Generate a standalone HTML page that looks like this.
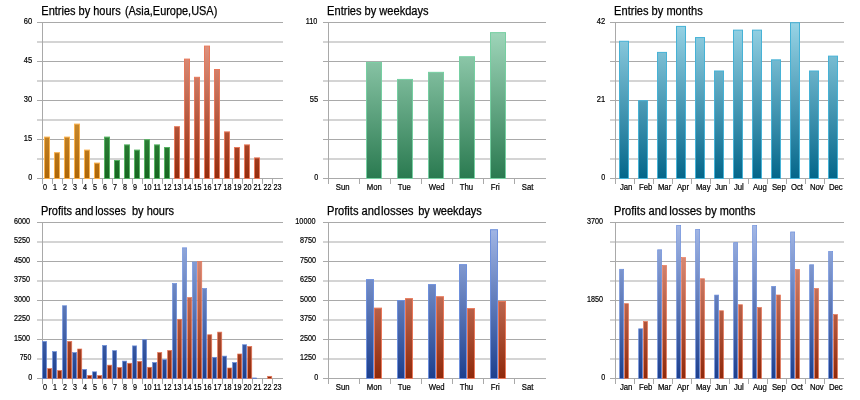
<!DOCTYPE html>
<html><head><meta charset="utf-8"><title>Statistics</title>
<style>
html,body{margin:0;padding:0;background:#fff;}
body{width:860px;height:400px;overflow:hidden;}
svg{display:block;}
text{font-family:"Liberation Sans", Arial, sans-serif;fill:#000;}
text.s{stroke:#000;stroke-width:0.2px;}
text.t{stroke:#000;stroke-width:0.25px;}
</style></head><body>
<svg width="860" height="400" viewBox="0 0 860 400">
<defs>
<linearGradient id="g_c1_orange" gradientUnits="userSpaceOnUse" x1="0" y1="22.5" x2="0" y2="178.5"><stop offset="0" stop-color="#f2c472"/><stop offset="1" stop-color="#ad6608"/></linearGradient>
<linearGradient id="g_c1_green" gradientUnits="userSpaceOnUse" x1="0" y1="22.5" x2="0" y2="178.5"><stop offset="0" stop-color="#6fc278"/><stop offset="1" stop-color="#166620"/></linearGradient>
<linearGradient id="g_c1_red1" gradientUnits="userSpaceOnUse" x1="0" y1="22.5" x2="0" y2="178.5"><stop offset="0" stop-color="#eaa493"/><stop offset="1" stop-color="#942c0c"/></linearGradient>
<linearGradient id="g_c2_mint" gradientUnits="userSpaceOnUse" x1="0" y1="22.5" x2="0" y2="178.5"><stop offset="0" stop-color="#a6dbc0"/><stop offset="1" stop-color="#2a7a50"/></linearGradient>
<linearGradient id="g_c3_teal" gradientUnits="userSpaceOnUse" x1="0" y1="22.5" x2="0" y2="178.5"><stop offset="0" stop-color="#98d4e6"/><stop offset="1" stop-color="#04668a"/></linearGradient>
<linearGradient id="g_c4_blue" gradientUnits="userSpaceOnUse" x1="0" y1="222.5" x2="0" y2="378.5"><stop offset="0" stop-color="#a6bae8"/><stop offset="1" stop-color="#1c3f8e"/></linearGradient>
<linearGradient id="g_c4_red" gradientUnits="userSpaceOnUse" x1="0" y1="222.5" x2="0" y2="378.5"><stop offset="0" stop-color="#eaa493"/><stop offset="1" stop-color="#8f290a"/></linearGradient>
<linearGradient id="g_c5_blue" gradientUnits="userSpaceOnUse" x1="0" y1="222.5" x2="0" y2="378.5"><stop offset="0" stop-color="#a6bae8"/><stop offset="1" stop-color="#1c3f8e"/></linearGradient>
<linearGradient id="g_c5_red" gradientUnits="userSpaceOnUse" x1="0" y1="222.5" x2="0" y2="378.5"><stop offset="0" stop-color="#eaa493"/><stop offset="1" stop-color="#8f290a"/></linearGradient>
<linearGradient id="g_c6_blue" gradientUnits="userSpaceOnUse" x1="0" y1="222.5" x2="0" y2="378.5"><stop offset="0" stop-color="#a6bae8"/><stop offset="1" stop-color="#1c3f8e"/></linearGradient>
<linearGradient id="g_c6_red" gradientUnits="userSpaceOnUse" x1="0" y1="222.5" x2="0" y2="378.5"><stop offset="0" stop-color="#eaa493"/><stop offset="1" stop-color="#8f290a"/></linearGradient>
</defs>
<rect width="860" height="400" fill="#fff"/>
<g stroke="#a9a9a9" stroke-width="1" fill="none"><line x1="37" y1="22.5" x2="283" y2="22.5"/><line x1="37" y1="42" x2="283" y2="42"/><line x1="37" y1="61.5" x2="283" y2="61.5"/><line x1="37" y1="81" x2="283" y2="81"/><line x1="37" y1="100.5" x2="283" y2="100.5"/><line x1="37" y1="120" x2="283" y2="120"/><line x1="37" y1="139.5" x2="283" y2="139.5"/><line x1="37" y1="159" x2="283" y2="159"/><line x1="37" y1="178.5" x2="283" y2="178.5"/><line x1="42.5" y1="22" x2="42.5" y2="179"/><line x1="42.5" y1="178.5" x2="42.5" y2="184"/><line x1="52.5" y1="178.5" x2="52.5" y2="184"/><line x1="62.5" y1="178.5" x2="62.5" y2="184"/><line x1="72.5" y1="178.5" x2="72.5" y2="184"/><line x1="82.5" y1="178.5" x2="82.5" y2="184"/><line x1="92.5" y1="178.5" x2="92.5" y2="184"/><line x1="102.5" y1="178.5" x2="102.5" y2="184"/><line x1="112.5" y1="178.5" x2="112.5" y2="184"/><line x1="122.5" y1="178.5" x2="122.5" y2="184"/><line x1="132.5" y1="178.5" x2="132.5" y2="184"/><line x1="142.5" y1="178.5" x2="142.5" y2="184"/><line x1="152.5" y1="178.5" x2="152.5" y2="184"/><line x1="162.5" y1="178.5" x2="162.5" y2="184"/><line x1="172.5" y1="178.5" x2="172.5" y2="184"/><line x1="182.5" y1="178.5" x2="182.5" y2="184"/><line x1="192.5" y1="178.5" x2="192.5" y2="184"/><line x1="202.5" y1="178.5" x2="202.5" y2="184"/><line x1="212.5" y1="178.5" x2="212.5" y2="184"/><line x1="222.5" y1="178.5" x2="222.5" y2="184"/><line x1="232.5" y1="178.5" x2="232.5" y2="184"/><line x1="242.5" y1="178.5" x2="242.5" y2="184"/><line x1="252.5" y1="178.5" x2="252.5" y2="184"/><line x1="262.5" y1="178.5" x2="262.5" y2="184"/><line x1="272.5" y1="178.5" x2="272.5" y2="184"/></g>
<rect x="44.5" y="137.1" width="5" height="41.4" fill="url(#g_c1_orange)" stroke="#f9b04a" stroke-width="1"/>
<rect x="54.5" y="152.7" width="5" height="25.8" fill="url(#g_c1_orange)" stroke="#f9b04a" stroke-width="1"/>
<rect x="64.5" y="137.1" width="5" height="41.4" fill="url(#g_c1_orange)" stroke="#f9b04a" stroke-width="1"/>
<rect x="74.5" y="124.1" width="5" height="54.4" fill="url(#g_c1_orange)" stroke="#f9b04a" stroke-width="1"/>
<rect x="84.5" y="150.1" width="5" height="28.4" fill="url(#g_c1_orange)" stroke="#f9b04a" stroke-width="1"/>
<rect x="94.5" y="163.1" width="5" height="15.4" fill="url(#g_c1_orange)" stroke="#f9b04a" stroke-width="1"/>
<rect x="104.5" y="137.1" width="5" height="41.4" fill="url(#g_c1_green)" stroke="#55b262" stroke-width="1"/>
<rect x="114.5" y="160.5" width="5" height="18" fill="url(#g_c1_green)" stroke="#55b262" stroke-width="1"/>
<rect x="124.5" y="144.9" width="5" height="33.6" fill="url(#g_c1_green)" stroke="#55b262" stroke-width="1"/>
<rect x="134.5" y="150.1" width="5" height="28.4" fill="url(#g_c1_green)" stroke="#55b262" stroke-width="1"/>
<rect x="144.5" y="139.7" width="5" height="38.8" fill="url(#g_c1_green)" stroke="#55b262" stroke-width="1"/>
<rect x="154.5" y="144.9" width="5" height="33.6" fill="url(#g_c1_green)" stroke="#55b262" stroke-width="1"/>
<rect x="164.5" y="147.5" width="5" height="31" fill="url(#g_c1_green)" stroke="#55b262" stroke-width="1"/>
<rect x="174.5" y="126.7" width="5" height="51.8" fill="url(#g_c1_red1)" stroke="#e8785a" stroke-width="1"/>
<rect x="184.5" y="59.1" width="5" height="119.4" fill="url(#g_c1_red1)" stroke="#e8785a" stroke-width="1"/>
<rect x="194.5" y="77.3" width="5" height="101.2" fill="url(#g_c1_red1)" stroke="#e8785a" stroke-width="1"/>
<rect x="204.5" y="46.1" width="5" height="132.4" fill="url(#g_c1_red1)" stroke="#e8785a" stroke-width="1"/>
<rect x="214.5" y="69.5" width="5" height="109" fill="url(#g_c1_red1)" stroke="#e8785a" stroke-width="1"/>
<rect x="224.5" y="131.9" width="5" height="46.6" fill="url(#g_c1_red1)" stroke="#e8785a" stroke-width="1"/>
<rect x="234.5" y="147.5" width="5" height="31" fill="url(#g_c1_red1)" stroke="#e8785a" stroke-width="1"/>
<rect x="244.5" y="144.9" width="5" height="33.6" fill="url(#g_c1_red1)" stroke="#e8785a" stroke-width="1"/>
<rect x="254.5" y="157.9" width="5" height="20.6" fill="url(#g_c1_red1)" stroke="#e8785a" stroke-width="1"/>
<text class="t" x="41.3" y="15" font-size="12" textLength="79.4" lengthAdjust="spacingAndGlyphs">Entries by hours</text>
<text class="t" x="124.9" y="15" font-size="12" textLength="92.4" lengthAdjust="spacingAndGlyphs">(Asia,Europe,USA)</text>
<text class="s" x="23.8" y="24" font-size="8.5" textLength="8.4" lengthAdjust="spacingAndGlyphs">60</text>
<text class="s" x="23.8" y="63" font-size="8.5" textLength="8.4" lengthAdjust="spacingAndGlyphs">45</text>
<text class="s" x="23.8" y="102" font-size="8.5" textLength="8.4" lengthAdjust="spacingAndGlyphs">30</text>
<text class="s" x="23.8" y="141" font-size="8.5" textLength="8.4" lengthAdjust="spacingAndGlyphs">15</text>
<text class="s" x="28.2" y="180" font-size="8.5" textLength="4" lengthAdjust="spacingAndGlyphs">0</text>
<text class="s" x="42.9" y="190" font-size="8.2" textLength="4.01" lengthAdjust="spacingAndGlyphs">0</text>
<text class="s" x="52.9" y="190" font-size="8.2" textLength="4.01" lengthAdjust="spacingAndGlyphs">1</text>
<text class="s" x="62.9" y="190" font-size="8.2" textLength="4.01" lengthAdjust="spacingAndGlyphs">2</text>
<text class="s" x="72.9" y="190" font-size="8.2" textLength="4.01" lengthAdjust="spacingAndGlyphs">3</text>
<text class="s" x="82.9" y="190" font-size="8.2" textLength="4.01" lengthAdjust="spacingAndGlyphs">4</text>
<text class="s" x="92.9" y="190" font-size="8.2" textLength="4.01" lengthAdjust="spacingAndGlyphs">5</text>
<text class="s" x="102.9" y="190" font-size="8.2" textLength="4.01" lengthAdjust="spacingAndGlyphs">6</text>
<text class="s" x="112.9" y="190" font-size="8.2" textLength="4.01" lengthAdjust="spacingAndGlyphs">7</text>
<text class="s" x="122.9" y="190" font-size="8.2" textLength="4.01" lengthAdjust="spacingAndGlyphs">8</text>
<text class="s" x="132.9" y="190" font-size="8.2" textLength="4.01" lengthAdjust="spacingAndGlyphs">9</text>
<text class="s" x="143.6" y="190" font-size="8.2" textLength="8.02" lengthAdjust="spacingAndGlyphs">10</text>
<text class="s" x="153.6" y="190" font-size="8.2" textLength="7.48" lengthAdjust="spacingAndGlyphs">11</text>
<text class="s" x="163.6" y="190" font-size="8.2" textLength="8.02" lengthAdjust="spacingAndGlyphs">12</text>
<text class="s" x="173.6" y="190" font-size="8.2" textLength="8.02" lengthAdjust="spacingAndGlyphs">13</text>
<text class="s" x="183.6" y="190" font-size="8.2" textLength="8.02" lengthAdjust="spacingAndGlyphs">14</text>
<text class="s" x="193.6" y="190" font-size="8.2" textLength="8.02" lengthAdjust="spacingAndGlyphs">15</text>
<text class="s" x="203.6" y="190" font-size="8.2" textLength="8.02" lengthAdjust="spacingAndGlyphs">16</text>
<text class="s" x="213.6" y="190" font-size="8.2" textLength="8.02" lengthAdjust="spacingAndGlyphs">17</text>
<text class="s" x="223.6" y="190" font-size="8.2" textLength="8.02" lengthAdjust="spacingAndGlyphs">18</text>
<text class="s" x="233.6" y="190" font-size="8.2" textLength="8.02" lengthAdjust="spacingAndGlyphs">19</text>
<text class="s" x="243.6" y="190" font-size="8.2" textLength="8.02" lengthAdjust="spacingAndGlyphs">20</text>
<text class="s" x="253.6" y="190" font-size="8.2" textLength="8.02" lengthAdjust="spacingAndGlyphs">21</text>
<text class="s" x="263.6" y="190" font-size="8.2" textLength="8.02" lengthAdjust="spacingAndGlyphs">22</text>
<text class="s" x="273.6" y="190" font-size="8.2" textLength="8.02" lengthAdjust="spacingAndGlyphs">23</text>
<g stroke="#a9a9a9" stroke-width="1" fill="none"><line x1="323" y1="22.5" x2="546" y2="22.5"/><line x1="323" y1="42" x2="546" y2="42"/><line x1="323" y1="61.5" x2="546" y2="61.5"/><line x1="323" y1="81" x2="546" y2="81"/><line x1="323" y1="100.5" x2="546" y2="100.5"/><line x1="323" y1="120" x2="546" y2="120"/><line x1="323" y1="139.5" x2="546" y2="139.5"/><line x1="323" y1="159" x2="546" y2="159"/><line x1="323" y1="178.5" x2="546" y2="178.5"/><line x1="328.5" y1="22" x2="328.5" y2="179"/><line x1="328.5" y1="178.5" x2="328.5" y2="184"/><line x1="359.5" y1="178.5" x2="359.5" y2="184"/><line x1="390.5" y1="178.5" x2="390.5" y2="184"/><line x1="421.5" y1="178.5" x2="421.5" y2="184"/><line x1="452.5" y1="178.5" x2="452.5" y2="184"/><line x1="483.5" y1="178.5" x2="483.5" y2="184"/><line x1="514.5" y1="178.5" x2="514.5" y2="184"/></g>
<rect x="366.5" y="62.41" width="15" height="116.09" fill="url(#g_c2_mint)" stroke="#76cfa2" stroke-width="1"/>
<rect x="397.5" y="79.43" width="15" height="99.07" fill="url(#g_c2_mint)" stroke="#76cfa2" stroke-width="1"/>
<rect x="428.5" y="72.34" width="15" height="106.16" fill="url(#g_c2_mint)" stroke="#76cfa2" stroke-width="1"/>
<rect x="459.5" y="56.74" width="15" height="121.76" fill="url(#g_c2_mint)" stroke="#76cfa2" stroke-width="1"/>
<rect x="490.5" y="32.63" width="15" height="145.87" fill="url(#g_c2_mint)" stroke="#76cfa2" stroke-width="1"/>
<text class="t" x="327.1" y="15" font-size="12" textLength="101.5" lengthAdjust="spacingAndGlyphs">Entries by weekdays</text>
<text class="s" x="305.7" y="24" font-size="8.5" textLength="11.6" lengthAdjust="spacingAndGlyphs">110</text>
<text class="s" x="309.8" y="102" font-size="8.5" textLength="8.4" lengthAdjust="spacingAndGlyphs">55</text>
<text class="s" x="314.2" y="180" font-size="8.5" textLength="4" lengthAdjust="spacingAndGlyphs">0</text>
<text class="s" x="335.8" y="190" font-size="8.2" textLength="13.81" lengthAdjust="spacingAndGlyphs">Sun</text>
<text class="s" x="366.8" y="190" font-size="8.2" textLength="15.1" lengthAdjust="spacingAndGlyphs">Mon</text>
<text class="s" x="397.8" y="190" font-size="8.2" textLength="13.09" lengthAdjust="spacingAndGlyphs">Tue</text>
<text class="s" x="428.8" y="190" font-size="8.2" textLength="15.82" lengthAdjust="spacingAndGlyphs">Wed</text>
<text class="s" x="459.8" y="190" font-size="8.2" textLength="13.38" lengthAdjust="spacingAndGlyphs">Thu</text>
<text class="s" x="490.8" y="190" font-size="8.2" textLength="9.05" lengthAdjust="spacingAndGlyphs">Fri</text>
<text class="s" x="521.8" y="190" font-size="8.2" textLength="11.66" lengthAdjust="spacingAndGlyphs">Sat</text>
<g stroke="#a9a9a9" stroke-width="1" fill="none"><line x1="610" y1="22.5" x2="844" y2="22.5"/><line x1="610" y1="42" x2="844" y2="42"/><line x1="610" y1="61.5" x2="844" y2="61.5"/><line x1="610" y1="81" x2="844" y2="81"/><line x1="610" y1="100.5" x2="844" y2="100.5"/><line x1="610" y1="120" x2="844" y2="120"/><line x1="610" y1="139.5" x2="844" y2="139.5"/><line x1="610" y1="159" x2="844" y2="159"/><line x1="610" y1="178.5" x2="844" y2="178.5"/><line x1="615.5" y1="22" x2="615.5" y2="179"/><line x1="615.5" y1="178.5" x2="615.5" y2="184"/><line x1="634.5" y1="178.5" x2="634.5" y2="184"/><line x1="653.5" y1="178.5" x2="653.5" y2="184"/><line x1="672.5" y1="178.5" x2="672.5" y2="184"/><line x1="691.5" y1="178.5" x2="691.5" y2="184"/><line x1="710.5" y1="178.5" x2="710.5" y2="184"/><line x1="729.5" y1="178.5" x2="729.5" y2="184"/><line x1="748.5" y1="178.5" x2="748.5" y2="184"/><line x1="767.5" y1="178.5" x2="767.5" y2="184"/><line x1="786.5" y1="178.5" x2="786.5" y2="184"/><line x1="805.5" y1="178.5" x2="805.5" y2="184"/><line x1="824.5" y1="178.5" x2="824.5" y2="184"/></g>
<rect x="619.5" y="41.27" width="9" height="137.23" fill="url(#g_c3_teal)" stroke="#46b2d6" stroke-width="1"/>
<rect x="638.5" y="100.7" width="9" height="77.8" fill="url(#g_c3_teal)" stroke="#46b2d6" stroke-width="1"/>
<rect x="657.5" y="52.41" width="9" height="126.09" fill="url(#g_c3_teal)" stroke="#46b2d6" stroke-width="1"/>
<rect x="676.5" y="26.41" width="9" height="152.09" fill="url(#g_c3_teal)" stroke="#46b2d6" stroke-width="1"/>
<rect x="695.5" y="37.56" width="9" height="140.94" fill="url(#g_c3_teal)" stroke="#46b2d6" stroke-width="1"/>
<rect x="714.5" y="70.99" width="9" height="107.51" fill="url(#g_c3_teal)" stroke="#46b2d6" stroke-width="1"/>
<rect x="733.5" y="30.13" width="9" height="148.37" fill="url(#g_c3_teal)" stroke="#46b2d6" stroke-width="1"/>
<rect x="752.5" y="30.13" width="9" height="148.37" fill="url(#g_c3_teal)" stroke="#46b2d6" stroke-width="1"/>
<rect x="771.5" y="59.84" width="9" height="118.66" fill="url(#g_c3_teal)" stroke="#46b2d6" stroke-width="1"/>
<rect x="790.5" y="22.7" width="9" height="155.8" fill="url(#g_c3_teal)" stroke="#46b2d6" stroke-width="1"/>
<rect x="809.5" y="70.99" width="9" height="107.51" fill="url(#g_c3_teal)" stroke="#46b2d6" stroke-width="1"/>
<rect x="828.5" y="56.13" width="9" height="122.37" fill="url(#g_c3_teal)" stroke="#46b2d6" stroke-width="1"/>
<text class="t" x="614.1" y="15" font-size="12" textLength="88.6" lengthAdjust="spacingAndGlyphs">Entries by months</text>
<text class="s" x="596.8" y="24" font-size="8.5" textLength="8.4" lengthAdjust="spacingAndGlyphs">42</text>
<text class="s" x="596.8" y="102" font-size="8.5" textLength="8.4" lengthAdjust="spacingAndGlyphs">21</text>
<text class="s" x="601.2" y="180" font-size="8.5" textLength="4" lengthAdjust="spacingAndGlyphs">0</text>
<text class="s" x="619.9" y="190" font-size="8.2" textLength="12.52" lengthAdjust="spacingAndGlyphs">Jan</text>
<text class="s" x="638.9" y="190" font-size="8.2" textLength="13.38" lengthAdjust="spacingAndGlyphs">Feb</text>
<text class="s" x="657.9" y="190" font-size="8.2" textLength="13.37" lengthAdjust="spacingAndGlyphs">Mar</text>
<text class="s" x="676.9" y="190" font-size="8.2" textLength="12.08" lengthAdjust="spacingAndGlyphs">Apr</text>
<text class="s" x="695.9" y="190" font-size="8.2" textLength="14.67" lengthAdjust="spacingAndGlyphs">May</text>
<text class="s" x="714.9" y="190" font-size="8.2" textLength="12.52" lengthAdjust="spacingAndGlyphs">Jun</text>
<text class="s" x="733.9" y="190" font-size="8.2" textLength="9.93" lengthAdjust="spacingAndGlyphs">Jul</text>
<text class="s" x="752.9" y="190" font-size="8.2" textLength="13.81" lengthAdjust="spacingAndGlyphs">Aug</text>
<text class="s" x="771.9" y="190" font-size="8.2" textLength="13.81" lengthAdjust="spacingAndGlyphs">Sep</text>
<text class="s" x="790.9" y="190" font-size="8.2" textLength="12.08" lengthAdjust="spacingAndGlyphs">Oct</text>
<text class="s" x="809.9" y="190" font-size="8.2" textLength="13.81" lengthAdjust="spacingAndGlyphs">Nov</text>
<text class="s" x="828.9" y="190" font-size="8.2" textLength="13.81" lengthAdjust="spacingAndGlyphs">Dec</text>
<g stroke="#a9a9a9" stroke-width="1" fill="none"><line x1="37" y1="222.5" x2="283" y2="222.5"/><line x1="37" y1="242" x2="283" y2="242"/><line x1="37" y1="261.5" x2="283" y2="261.5"/><line x1="37" y1="281" x2="283" y2="281"/><line x1="37" y1="300.5" x2="283" y2="300.5"/><line x1="37" y1="320" x2="283" y2="320"/><line x1="37" y1="339.5" x2="283" y2="339.5"/><line x1="37" y1="359" x2="283" y2="359"/><line x1="37" y1="378.5" x2="283" y2="378.5"/><line x1="42.5" y1="222" x2="42.5" y2="379"/><line x1="42.5" y1="378.5" x2="42.5" y2="384"/><line x1="52.5" y1="378.5" x2="52.5" y2="384"/><line x1="62.5" y1="378.5" x2="62.5" y2="384"/><line x1="72.5" y1="378.5" x2="72.5" y2="384"/><line x1="82.5" y1="378.5" x2="82.5" y2="384"/><line x1="92.5" y1="378.5" x2="92.5" y2="384"/><line x1="102.5" y1="378.5" x2="102.5" y2="384"/><line x1="112.5" y1="378.5" x2="112.5" y2="384"/><line x1="122.5" y1="378.5" x2="122.5" y2="384"/><line x1="132.5" y1="378.5" x2="132.5" y2="384"/><line x1="142.5" y1="378.5" x2="142.5" y2="384"/><line x1="152.5" y1="378.5" x2="152.5" y2="384"/><line x1="162.5" y1="378.5" x2="162.5" y2="384"/><line x1="172.5" y1="378.5" x2="172.5" y2="384"/><line x1="182.5" y1="378.5" x2="182.5" y2="384"/><line x1="192.5" y1="378.5" x2="192.5" y2="384"/><line x1="202.5" y1="378.5" x2="202.5" y2="384"/><line x1="212.5" y1="378.5" x2="212.5" y2="384"/><line x1="222.5" y1="378.5" x2="222.5" y2="384"/><line x1="232.5" y1="378.5" x2="232.5" y2="384"/><line x1="242.5" y1="378.5" x2="242.5" y2="384"/><line x1="252.5" y1="378.5" x2="252.5" y2="384"/><line x1="262.5" y1="378.5" x2="262.5" y2="384"/><line x1="272.5" y1="378.5" x2="272.5" y2="384"/></g>
<rect x="42.55" y="341.4" width="4.1" height="37.25" fill="url(#g_c4_blue)" stroke="#6e90dc" stroke-width="0.7"/>
<rect x="52.55" y="351.62" width="4.1" height="27.03" fill="url(#g_c4_blue)" stroke="#6e90dc" stroke-width="0.7"/>
<rect x="62.55" y="305.76" width="4.1" height="72.89" fill="url(#g_c4_blue)" stroke="#6e90dc" stroke-width="0.7"/>
<rect x="72.55" y="352.56" width="4.1" height="26.09" fill="url(#g_c4_blue)" stroke="#6e90dc" stroke-width="0.7"/>
<rect x="82.55" y="369.43" width="4.1" height="9.22" fill="url(#g_c4_blue)" stroke="#6e90dc" stroke-width="0.7"/>
<rect x="92.55" y="371.82" width="4.1" height="6.83" fill="url(#g_c4_blue)" stroke="#6e90dc" stroke-width="0.7"/>
<rect x="102.55" y="345.43" width="4.1" height="33.22" fill="url(#g_c4_blue)" stroke="#6e90dc" stroke-width="0.7"/>
<rect x="112.55" y="350.66" width="4.1" height="27.99" fill="url(#g_c4_blue)" stroke="#6e90dc" stroke-width="0.7"/>
<rect x="122.55" y="361.11" width="4.1" height="17.54" fill="url(#g_c4_blue)" stroke="#6e90dc" stroke-width="0.7"/>
<rect x="132.55" y="345.9" width="4.1" height="32.75" fill="url(#g_c4_blue)" stroke="#6e90dc" stroke-width="0.7"/>
<rect x="142.55" y="339.74" width="4.1" height="38.91" fill="url(#g_c4_blue)" stroke="#6e90dc" stroke-width="0.7"/>
<rect x="152.55" y="362.54" width="4.1" height="16.11" fill="url(#g_c4_blue)" stroke="#6e90dc" stroke-width="0.7"/>
<rect x="162.55" y="359.71" width="4.1" height="18.94" fill="url(#g_c4_blue)" stroke="#6e90dc" stroke-width="0.7"/>
<rect x="172.55" y="283.48" width="4.1" height="95.17" fill="url(#g_c4_blue)" stroke="#6e90dc" stroke-width="0.7"/>
<rect x="182.55" y="247.83" width="4.1" height="130.82" fill="url(#g_c4_blue)" stroke="#6e90dc" stroke-width="0.7"/>
<rect x="192.55" y="262.1" width="4.1" height="116.55" fill="url(#g_c4_blue)" stroke="#6e90dc" stroke-width="0.7"/>
<rect x="202.55" y="288.47" width="4.1" height="90.18" fill="url(#g_c4_blue)" stroke="#6e90dc" stroke-width="0.7"/>
<rect x="212.55" y="357.32" width="4.1" height="21.33" fill="url(#g_c4_blue)" stroke="#6e90dc" stroke-width="0.7"/>
<rect x="222.55" y="356.12" width="4.1" height="22.53" fill="url(#g_c4_blue)" stroke="#6e90dc" stroke-width="0.7"/>
<rect x="232.55" y="362.54" width="4.1" height="16.11" fill="url(#g_c4_blue)" stroke="#6e90dc" stroke-width="0.7"/>
<rect x="242.55" y="344.73" width="4.1" height="33.92" fill="url(#g_c4_blue)" stroke="#6e90dc" stroke-width="0.7"/>
<rect x="252.55" y="377.96" width="4.1" height="0.69" fill="url(#g_c4_blue)" stroke="#6e90dc" stroke-width="0.7"/>
<rect x="47.65" y="368.6" width="4.1" height="10.05" fill="url(#g_c4_red)" stroke="#e8785a" stroke-width="0.7"/>
<rect x="57.65" y="370.55" width="4.1" height="8.1" fill="url(#g_c4_red)" stroke="#e8785a" stroke-width="0.7"/>
<rect x="67.65" y="341.4" width="4.1" height="37.25" fill="url(#g_c4_red)" stroke="#e8785a" stroke-width="0.7"/>
<rect x="77.65" y="349" width="4.1" height="29.65" fill="url(#g_c4_red)" stroke="#e8785a" stroke-width="0.7"/>
<rect x="87.65" y="375.39" width="4.1" height="3.26" fill="url(#g_c4_red)" stroke="#e8785a" stroke-width="0.7"/>
<rect x="97.65" y="375.62" width="4.1" height="3.03" fill="url(#g_c4_red)" stroke="#e8785a" stroke-width="0.7"/>
<rect x="107.65" y="365.17" width="4.1" height="13.48" fill="url(#g_c4_red)" stroke="#e8785a" stroke-width="0.7"/>
<rect x="117.65" y="367.53" width="4.1" height="11.12" fill="url(#g_c4_red)" stroke="#e8785a" stroke-width="0.7"/>
<rect x="127.65" y="363.27" width="4.1" height="15.38" fill="url(#g_c4_red)" stroke="#e8785a" stroke-width="0.7"/>
<rect x="137.65" y="361.37" width="4.1" height="17.28" fill="url(#g_c4_red)" stroke="#e8785a" stroke-width="0.7"/>
<rect x="147.65" y="367.3" width="4.1" height="11.35" fill="url(#g_c4_red)" stroke="#e8785a" stroke-width="0.7"/>
<rect x="157.65" y="352.56" width="4.1" height="26.09" fill="url(#g_c4_red)" stroke="#e8785a" stroke-width="0.7"/>
<rect x="167.65" y="350.43" width="4.1" height="28.22" fill="url(#g_c4_red)" stroke="#e8785a" stroke-width="0.7"/>
<rect x="177.65" y="319.3" width="4.1" height="59.35" fill="url(#g_c4_red)" stroke="#e8785a" stroke-width="0.7"/>
<rect x="187.65" y="297.59" width="4.1" height="81.06" fill="url(#g_c4_red)" stroke="#e8785a" stroke-width="0.7"/>
<rect x="197.65" y="261.61" width="4.1" height="117.04" fill="url(#g_c4_red)" stroke="#e8785a" stroke-width="0.7"/>
<rect x="207.65" y="334.75" width="4.1" height="43.9" fill="url(#g_c4_red)" stroke="#e8785a" stroke-width="0.7"/>
<rect x="217.65" y="332.12" width="4.1" height="46.53" fill="url(#g_c4_red)" stroke="#e8785a" stroke-width="0.7"/>
<rect x="227.65" y="368" width="4.1" height="10.65" fill="url(#g_c4_red)" stroke="#e8785a" stroke-width="0.7"/>
<rect x="237.65" y="353.99" width="4.1" height="24.66" fill="url(#g_c4_red)" stroke="#e8785a" stroke-width="0.7"/>
<rect x="247.65" y="346.4" width="4.1" height="32.25" fill="url(#g_c4_red)" stroke="#e8785a" stroke-width="0.7"/>
<rect x="267.65" y="376.32" width="4.1" height="2.33" fill="url(#g_c4_red)" stroke="#e8785a" stroke-width="0.7"/>
<text class="t" x="40.9" y="215" font-size="12" textLength="52.5" lengthAdjust="spacingAndGlyphs">Profits and</text>
<text class="t" x="95.2" y="215" font-size="12" textLength="30.7" lengthAdjust="spacingAndGlyphs">losses</text>
<text class="t" x="132" y="215" font-size="12" textLength="42.1" lengthAdjust="spacingAndGlyphs">by hours</text>
<text class="s" x="14.1" y="224" font-size="8.5" textLength="16" lengthAdjust="spacingAndGlyphs">6000</text>
<text class="s" x="14.1" y="243" font-size="8.5" textLength="16" lengthAdjust="spacingAndGlyphs">5250</text>
<text class="s" x="14.1" y="263" font-size="8.5" textLength="16" lengthAdjust="spacingAndGlyphs">4500</text>
<text class="s" x="14.1" y="282" font-size="8.5" textLength="16" lengthAdjust="spacingAndGlyphs">3750</text>
<text class="s" x="14.1" y="302" font-size="8.5" textLength="16" lengthAdjust="spacingAndGlyphs">3000</text>
<text class="s" x="14.1" y="321" font-size="8.5" textLength="16" lengthAdjust="spacingAndGlyphs">2250</text>
<text class="s" x="14.1" y="341" font-size="8.5" textLength="16" lengthAdjust="spacingAndGlyphs">1500</text>
<text class="s" x="19.7" y="360" font-size="8.5" textLength="11.6" lengthAdjust="spacingAndGlyphs">750</text>
<text class="s" x="28.2" y="380" font-size="8.5" textLength="4" lengthAdjust="spacingAndGlyphs">0</text>
<text class="s" x="42.9" y="390" font-size="8.2" textLength="4.01" lengthAdjust="spacingAndGlyphs">0</text>
<text class="s" x="52.9" y="390" font-size="8.2" textLength="4.01" lengthAdjust="spacingAndGlyphs">1</text>
<text class="s" x="62.9" y="390" font-size="8.2" textLength="4.01" lengthAdjust="spacingAndGlyphs">2</text>
<text class="s" x="72.9" y="390" font-size="8.2" textLength="4.01" lengthAdjust="spacingAndGlyphs">3</text>
<text class="s" x="82.9" y="390" font-size="8.2" textLength="4.01" lengthAdjust="spacingAndGlyphs">4</text>
<text class="s" x="92.9" y="390" font-size="8.2" textLength="4.01" lengthAdjust="spacingAndGlyphs">5</text>
<text class="s" x="102.9" y="390" font-size="8.2" textLength="4.01" lengthAdjust="spacingAndGlyphs">6</text>
<text class="s" x="112.9" y="390" font-size="8.2" textLength="4.01" lengthAdjust="spacingAndGlyphs">7</text>
<text class="s" x="122.9" y="390" font-size="8.2" textLength="4.01" lengthAdjust="spacingAndGlyphs">8</text>
<text class="s" x="132.9" y="390" font-size="8.2" textLength="4.01" lengthAdjust="spacingAndGlyphs">9</text>
<text class="s" x="143.6" y="390" font-size="8.2" textLength="8.02" lengthAdjust="spacingAndGlyphs">10</text>
<text class="s" x="153.6" y="390" font-size="8.2" textLength="7.48" lengthAdjust="spacingAndGlyphs">11</text>
<text class="s" x="163.6" y="390" font-size="8.2" textLength="8.02" lengthAdjust="spacingAndGlyphs">12</text>
<text class="s" x="173.6" y="390" font-size="8.2" textLength="8.02" lengthAdjust="spacingAndGlyphs">13</text>
<text class="s" x="183.6" y="390" font-size="8.2" textLength="8.02" lengthAdjust="spacingAndGlyphs">14</text>
<text class="s" x="193.6" y="390" font-size="8.2" textLength="8.02" lengthAdjust="spacingAndGlyphs">15</text>
<text class="s" x="203.6" y="390" font-size="8.2" textLength="8.02" lengthAdjust="spacingAndGlyphs">16</text>
<text class="s" x="213.6" y="390" font-size="8.2" textLength="8.02" lengthAdjust="spacingAndGlyphs">17</text>
<text class="s" x="223.6" y="390" font-size="8.2" textLength="8.02" lengthAdjust="spacingAndGlyphs">18</text>
<text class="s" x="233.6" y="390" font-size="8.2" textLength="8.02" lengthAdjust="spacingAndGlyphs">19</text>
<text class="s" x="243.6" y="390" font-size="8.2" textLength="8.02" lengthAdjust="spacingAndGlyphs">20</text>
<text class="s" x="253.6" y="390" font-size="8.2" textLength="8.02" lengthAdjust="spacingAndGlyphs">21</text>
<text class="s" x="263.6" y="390" font-size="8.2" textLength="8.02" lengthAdjust="spacingAndGlyphs">22</text>
<text class="s" x="273.6" y="390" font-size="8.2" textLength="8.02" lengthAdjust="spacingAndGlyphs">23</text>
<g stroke="#a9a9a9" stroke-width="1" fill="none"><line x1="323" y1="222.5" x2="546" y2="222.5"/><line x1="323" y1="242" x2="546" y2="242"/><line x1="323" y1="261.5" x2="546" y2="261.5"/><line x1="323" y1="281" x2="546" y2="281"/><line x1="323" y1="300.5" x2="546" y2="300.5"/><line x1="323" y1="320" x2="546" y2="320"/><line x1="323" y1="339.5" x2="546" y2="339.5"/><line x1="323" y1="359" x2="546" y2="359"/><line x1="323" y1="378.5" x2="546" y2="378.5"/><line x1="328.5" y1="222" x2="328.5" y2="379"/><line x1="328.5" y1="378.5" x2="328.5" y2="384"/><line x1="359.5" y1="378.5" x2="359.5" y2="384"/><line x1="390.5" y1="378.5" x2="390.5" y2="384"/><line x1="421.5" y1="378.5" x2="421.5" y2="384"/><line x1="452.5" y1="378.5" x2="452.5" y2="384"/><line x1="483.5" y1="378.5" x2="483.5" y2="384"/><line x1="514.5" y1="378.5" x2="514.5" y2="384"/></g>
<rect x="366.5" y="279.61" width="7" height="98.89" fill="url(#g_c5_blue)" stroke="#6e90dc" stroke-width="1"/>
<rect x="397.5" y="300.53" width="7" height="77.97" fill="url(#g_c5_blue)" stroke="#6e90dc" stroke-width="1"/>
<rect x="428.5" y="284.6" width="7" height="93.9" fill="url(#g_c5_blue)" stroke="#6e90dc" stroke-width="1"/>
<rect x="459.5" y="264.65" width="7" height="113.85" fill="url(#g_c5_blue)" stroke="#6e90dc" stroke-width="1"/>
<rect x="490.5" y="229.72" width="7" height="148.78" fill="url(#g_c5_blue)" stroke="#6e90dc" stroke-width="1"/>
<rect x="374.5" y="308.13" width="7" height="70.37" fill="url(#g_c5_red)" stroke="#e8785a" stroke-width="1"/>
<rect x="405.5" y="298.63" width="7" height="79.87" fill="url(#g_c5_red)" stroke="#e8785a" stroke-width="1"/>
<rect x="436.5" y="296.72" width="7" height="81.78" fill="url(#g_c5_red)" stroke="#e8785a" stroke-width="1"/>
<rect x="467.5" y="308.6" width="7" height="69.9" fill="url(#g_c5_red)" stroke="#e8785a" stroke-width="1"/>
<rect x="498.5" y="301.47" width="7" height="77.03" fill="url(#g_c5_red)" stroke="#e8785a" stroke-width="1"/>
<text class="t" x="327" y="215" font-size="12" textLength="53.1" lengthAdjust="spacingAndGlyphs">Profits and</text>
<text class="t" x="381" y="215" font-size="12" textLength="32.6" lengthAdjust="spacingAndGlyphs">losses</text>
<text class="t" x="418.2" y="215" font-size="12" textLength="63.7" lengthAdjust="spacingAndGlyphs">by weekdays</text>
<text class="s" x="295.3" y="224" font-size="8.5" textLength="20.2" lengthAdjust="spacingAndGlyphs">10000</text>
<text class="s" x="300.1" y="243" font-size="8.5" textLength="16" lengthAdjust="spacingAndGlyphs">8750</text>
<text class="s" x="300.1" y="263" font-size="8.5" textLength="16" lengthAdjust="spacingAndGlyphs">7500</text>
<text class="s" x="300.1" y="282" font-size="8.5" textLength="16" lengthAdjust="spacingAndGlyphs">6250</text>
<text class="s" x="300.1" y="302" font-size="8.5" textLength="16" lengthAdjust="spacingAndGlyphs">5000</text>
<text class="s" x="300.1" y="321" font-size="8.5" textLength="16" lengthAdjust="spacingAndGlyphs">3750</text>
<text class="s" x="300.1" y="341" font-size="8.5" textLength="16" lengthAdjust="spacingAndGlyphs">2500</text>
<text class="s" x="300.1" y="360" font-size="8.5" textLength="16" lengthAdjust="spacingAndGlyphs">1250</text>
<text class="s" x="314.2" y="380" font-size="8.5" textLength="4" lengthAdjust="spacingAndGlyphs">0</text>
<text class="s" x="335.8" y="390" font-size="8.2" textLength="13.81" lengthAdjust="spacingAndGlyphs">Sun</text>
<text class="s" x="366.8" y="390" font-size="8.2" textLength="15.1" lengthAdjust="spacingAndGlyphs">Mon</text>
<text class="s" x="397.8" y="390" font-size="8.2" textLength="13.09" lengthAdjust="spacingAndGlyphs">Tue</text>
<text class="s" x="428.8" y="390" font-size="8.2" textLength="15.82" lengthAdjust="spacingAndGlyphs">Wed</text>
<text class="s" x="459.8" y="390" font-size="8.2" textLength="13.38" lengthAdjust="spacingAndGlyphs">Thu</text>
<text class="s" x="490.8" y="390" font-size="8.2" textLength="9.05" lengthAdjust="spacingAndGlyphs">Fri</text>
<text class="s" x="521.8" y="390" font-size="8.2" textLength="11.66" lengthAdjust="spacingAndGlyphs">Sat</text>
<g stroke="#a9a9a9" stroke-width="1" fill="none"><line x1="610" y1="222.5" x2="844" y2="222.5"/><line x1="610" y1="242" x2="844" y2="242"/><line x1="610" y1="261.5" x2="844" y2="261.5"/><line x1="610" y1="281" x2="844" y2="281"/><line x1="610" y1="300.5" x2="844" y2="300.5"/><line x1="610" y1="320" x2="844" y2="320"/><line x1="610" y1="339.5" x2="844" y2="339.5"/><line x1="610" y1="359" x2="844" y2="359"/><line x1="610" y1="378.5" x2="844" y2="378.5"/><line x1="615.5" y1="222" x2="615.5" y2="379"/><line x1="615.5" y1="378.5" x2="615.5" y2="384"/><line x1="634.5" y1="378.5" x2="634.5" y2="384"/><line x1="653.5" y1="378.5" x2="653.5" y2="384"/><line x1="672.5" y1="378.5" x2="672.5" y2="384"/><line x1="691.5" y1="378.5" x2="691.5" y2="384"/><line x1="710.5" y1="378.5" x2="710.5" y2="384"/><line x1="729.5" y1="378.5" x2="729.5" y2="384"/><line x1="748.5" y1="378.5" x2="748.5" y2="384"/><line x1="767.5" y1="378.5" x2="767.5" y2="384"/><line x1="786.5" y1="378.5" x2="786.5" y2="384"/><line x1="805.5" y1="378.5" x2="805.5" y2="384"/><line x1="824.5" y1="378.5" x2="824.5" y2="384"/></g>
<rect x="619.65" y="269.28" width="4" height="109.37" fill="url(#g_c6_blue)" stroke="#6e90dc" stroke-width="0.7"/>
<rect x="638.65" y="328.81" width="4" height="49.84" fill="url(#g_c6_blue)" stroke="#6e90dc" stroke-width="0.7"/>
<rect x="657.65" y="249.8" width="4" height="128.85" fill="url(#g_c6_blue)" stroke="#6e90dc" stroke-width="0.7"/>
<rect x="676.65" y="225.34" width="4" height="153.31" fill="url(#g_c6_blue)" stroke="#6e90dc" stroke-width="0.7"/>
<rect x="695.65" y="229.35" width="4" height="149.3" fill="url(#g_c6_blue)" stroke="#6e90dc" stroke-width="0.7"/>
<rect x="714.65" y="295.08" width="4" height="83.57" fill="url(#g_c6_blue)" stroke="#6e90dc" stroke-width="0.7"/>
<rect x="733.65" y="242.67" width="4" height="135.98" fill="url(#g_c6_blue)" stroke="#6e90dc" stroke-width="0.7"/>
<rect x="752.65" y="225.55" width="4" height="153.1" fill="url(#g_c6_blue)" stroke="#6e90dc" stroke-width="0.7"/>
<rect x="771.65" y="286.35" width="4" height="92.3" fill="url(#g_c6_blue)" stroke="#6e90dc" stroke-width="0.7"/>
<rect x="790.65" y="231.96" width="4" height="146.69" fill="url(#g_c6_blue)" stroke="#6e90dc" stroke-width="0.7"/>
<rect x="809.65" y="264.77" width="4" height="113.88" fill="url(#g_c6_blue)" stroke="#6e90dc" stroke-width="0.7"/>
<rect x="828.65" y="251.44" width="4" height="127.21" fill="url(#g_c6_blue)" stroke="#6e90dc" stroke-width="0.7"/>
<rect x="624.55" y="303.68" width="4" height="74.97" fill="url(#g_c6_red)" stroke="#e8785a" stroke-width="0.7"/>
<rect x="643.55" y="321.47" width="4" height="57.18" fill="url(#g_c6_red)" stroke="#e8785a" stroke-width="0.7"/>
<rect x="662.55" y="265.48" width="4" height="113.17" fill="url(#g_c6_red)" stroke="#e8785a" stroke-width="0.7"/>
<rect x="681.55" y="257.64" width="4" height="121.01" fill="url(#g_c6_red)" stroke="#e8785a" stroke-width="0.7"/>
<rect x="700.55" y="278.76" width="4" height="99.89" fill="url(#g_c6_red)" stroke="#e8785a" stroke-width="0.7"/>
<rect x="719.55" y="310.76" width="4" height="67.89" fill="url(#g_c6_red)" stroke="#e8785a" stroke-width="0.7"/>
<rect x="738.55" y="304.73" width="4" height="73.92" fill="url(#g_c6_red)" stroke="#e8785a" stroke-width="0.7"/>
<rect x="757.55" y="307.48" width="4" height="71.17" fill="url(#g_c6_red)" stroke="#e8785a" stroke-width="0.7"/>
<rect x="776.55" y="295" width="4" height="83.65" fill="url(#g_c6_red)" stroke="#e8785a" stroke-width="0.7"/>
<rect x="795.55" y="269.49" width="4" height="109.16" fill="url(#g_c6_red)" stroke="#e8785a" stroke-width="0.7"/>
<rect x="814.55" y="288.5" width="4" height="90.15" fill="url(#g_c6_red)" stroke="#e8785a" stroke-width="0.7"/>
<rect x="833.55" y="314.56" width="4" height="64.09" fill="url(#g_c6_red)" stroke="#e8785a" stroke-width="0.7"/>
<text class="t" x="614" y="215" font-size="12" textLength="53.1" lengthAdjust="spacingAndGlyphs">Profits and</text>
<text class="t" x="669.2" y="215" font-size="12" textLength="32.7" lengthAdjust="spacingAndGlyphs">losses</text>
<text class="t" x="705.1" y="215" font-size="12" textLength="50.3" lengthAdjust="spacingAndGlyphs">by months</text>
<text class="s" x="587.1" y="224" font-size="8.5" textLength="16" lengthAdjust="spacingAndGlyphs">3700</text>
<text class="s" x="587.1" y="302" font-size="8.5" textLength="16" lengthAdjust="spacingAndGlyphs">1850</text>
<text class="s" x="601.2" y="380" font-size="8.5" textLength="4" lengthAdjust="spacingAndGlyphs">0</text>
<text class="s" x="619.9" y="390" font-size="8.2" textLength="12.52" lengthAdjust="spacingAndGlyphs">Jan</text>
<text class="s" x="638.9" y="390" font-size="8.2" textLength="13.38" lengthAdjust="spacingAndGlyphs">Feb</text>
<text class="s" x="657.9" y="390" font-size="8.2" textLength="13.37" lengthAdjust="spacingAndGlyphs">Mar</text>
<text class="s" x="676.9" y="390" font-size="8.2" textLength="12.08" lengthAdjust="spacingAndGlyphs">Apr</text>
<text class="s" x="695.9" y="390" font-size="8.2" textLength="14.67" lengthAdjust="spacingAndGlyphs">May</text>
<text class="s" x="714.9" y="390" font-size="8.2" textLength="12.52" lengthAdjust="spacingAndGlyphs">Jun</text>
<text class="s" x="733.9" y="390" font-size="8.2" textLength="9.93" lengthAdjust="spacingAndGlyphs">Jul</text>
<text class="s" x="752.9" y="390" font-size="8.2" textLength="13.81" lengthAdjust="spacingAndGlyphs">Aug</text>
<text class="s" x="771.9" y="390" font-size="8.2" textLength="13.81" lengthAdjust="spacingAndGlyphs">Sep</text>
<text class="s" x="790.9" y="390" font-size="8.2" textLength="12.08" lengthAdjust="spacingAndGlyphs">Oct</text>
<text class="s" x="809.9" y="390" font-size="8.2" textLength="13.81" lengthAdjust="spacingAndGlyphs">Nov</text>
<text class="s" x="828.9" y="390" font-size="8.2" textLength="13.81" lengthAdjust="spacingAndGlyphs">Dec</text>
</svg>
</body></html>
